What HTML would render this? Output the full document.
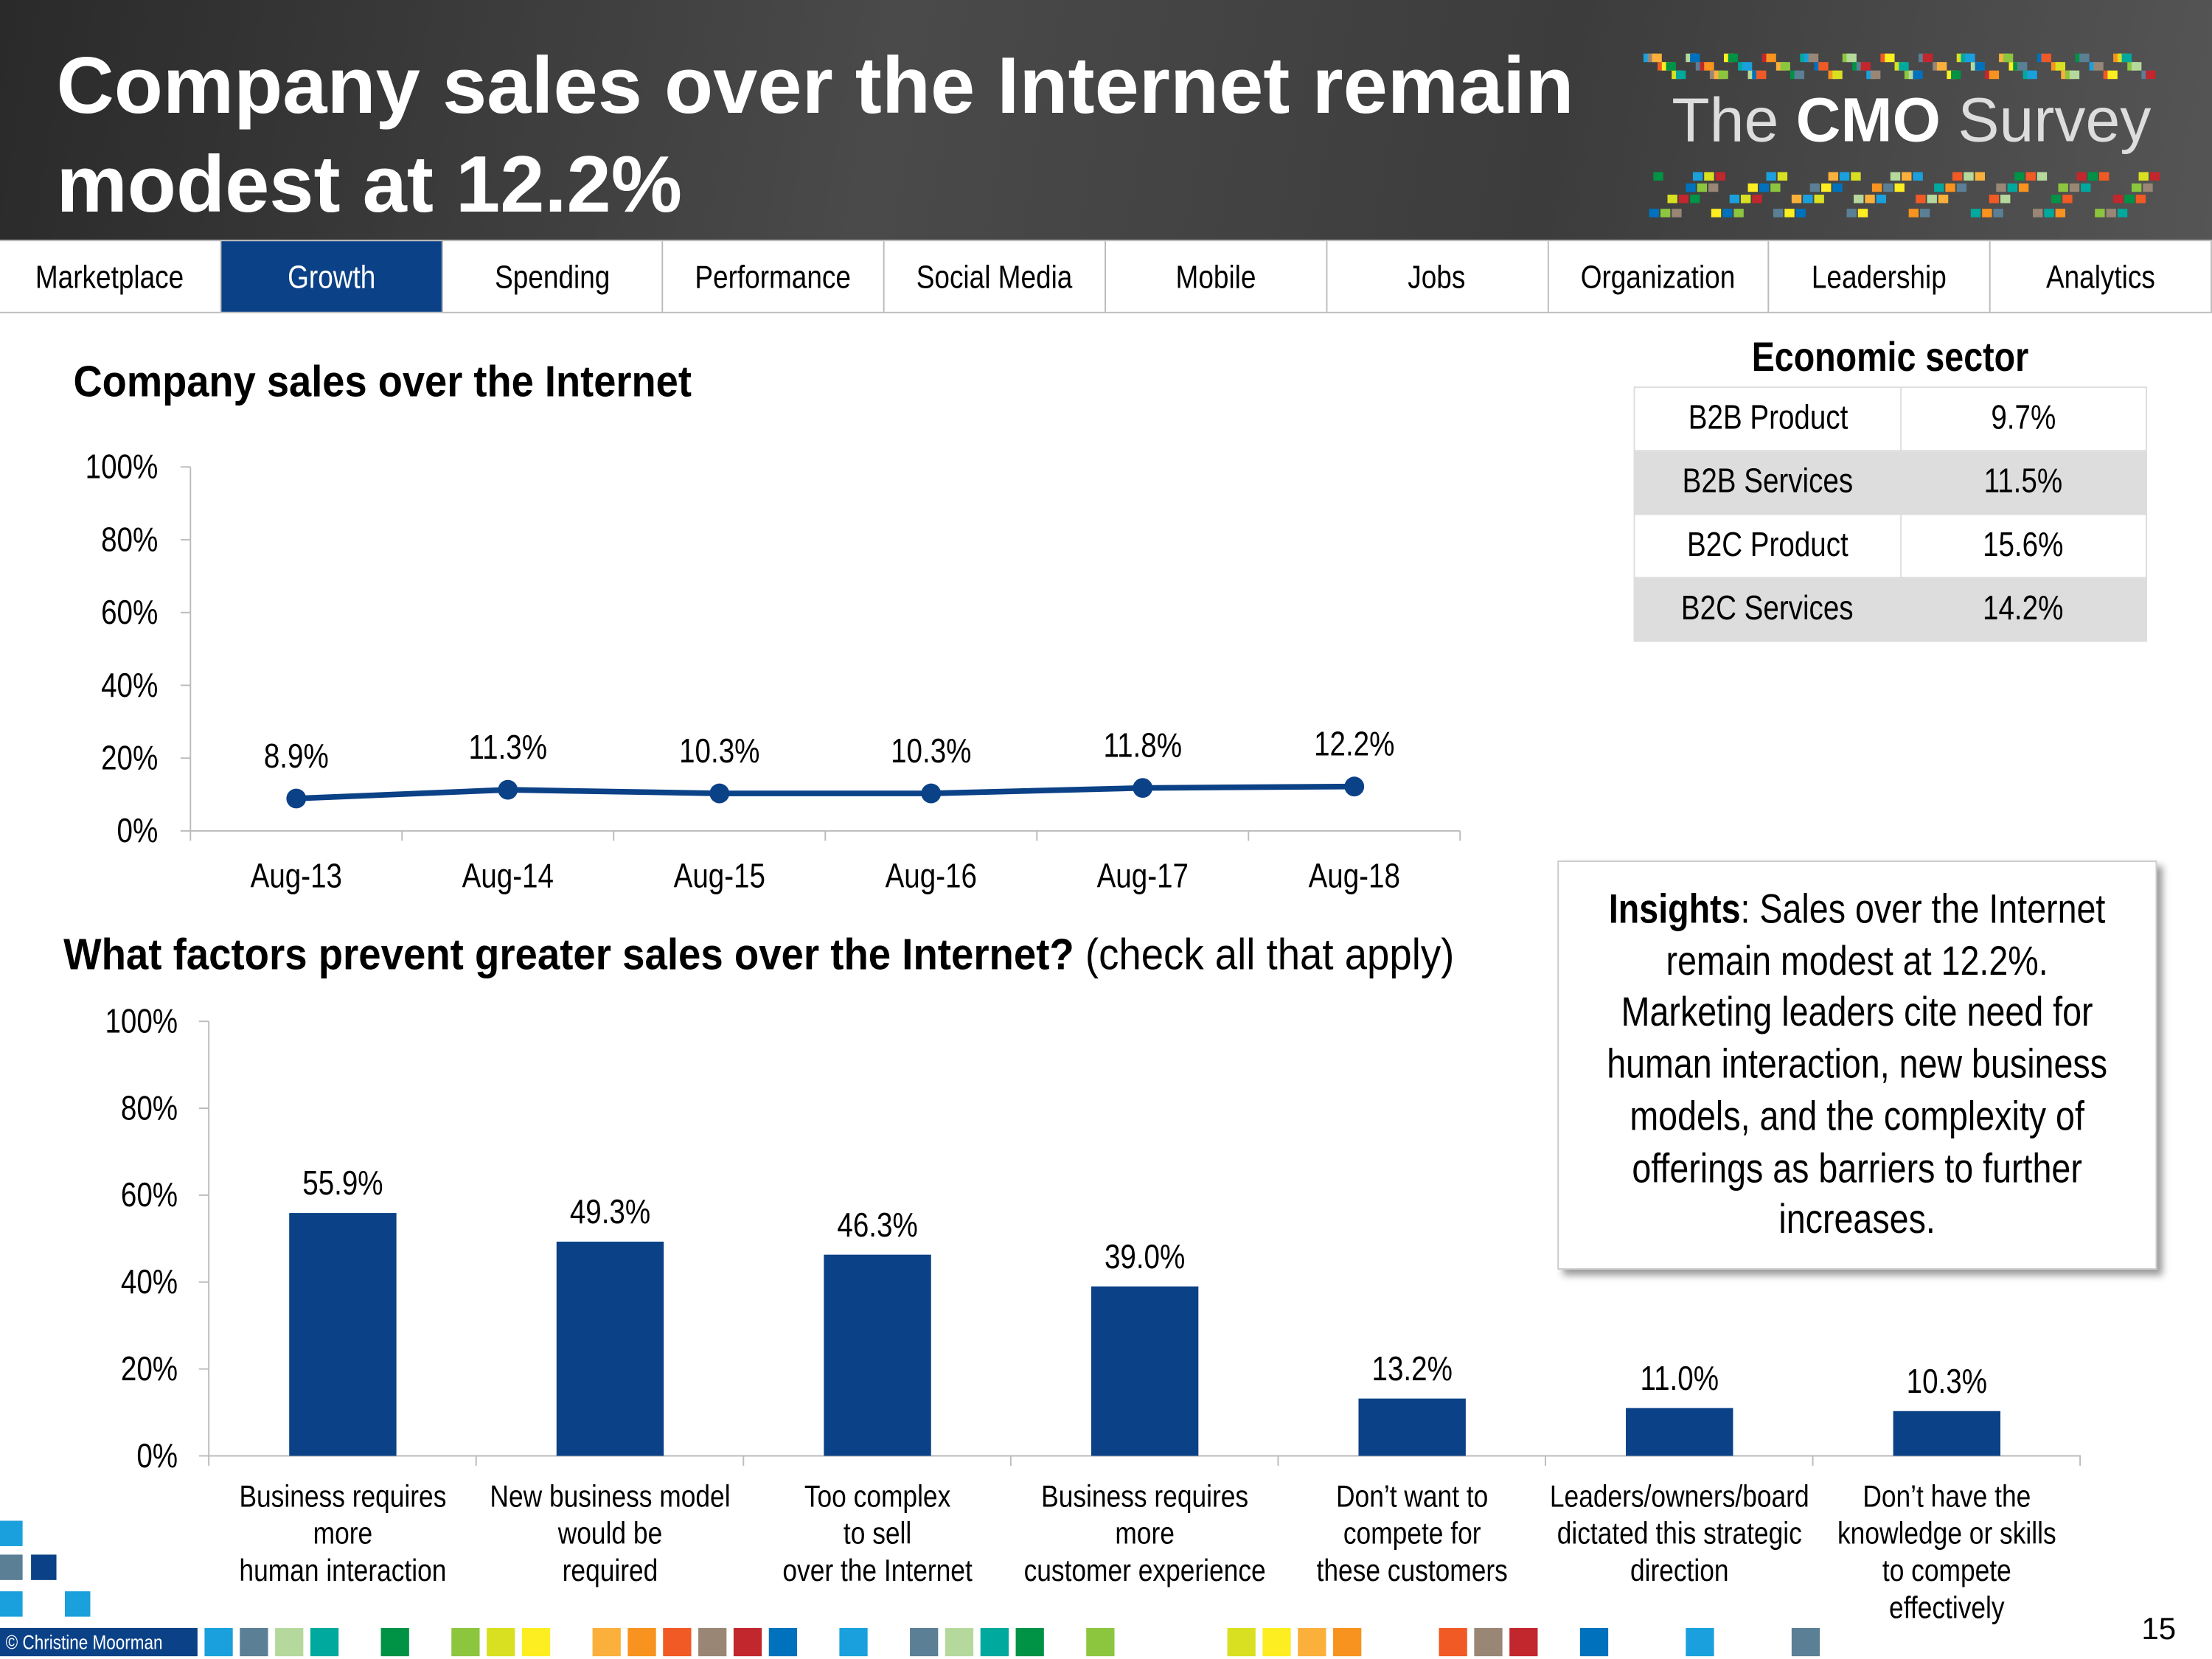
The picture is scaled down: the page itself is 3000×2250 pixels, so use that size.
<!DOCTYPE html>
<html><head><meta charset="utf-8"><style>
html,body{margin:0;padding:0;background:#fff;}
body{width:3000px;height:2250px;overflow:hidden;}
#wrap{width:1568px;height:1176px;transform:scale(1.91327);transform-origin:0 0;position:relative;font-family:"Liberation Sans",sans-serif;color:#000;}
.abs{position:absolute;}
.n{display:inline-block;transform:scaleX(0.84);white-space:nowrap;}
#header{left:0;top:0;width:1568px;height:170px;background:linear-gradient(100deg,#2a2a2a 0%,#4a4a4a 40%,#3c3c3c 70%,#555 100%);}
#title{left:40px;top:26px;color:#fff;font-weight:bold;font-size:56.6px;line-height:70px;white-space:nowrap;}
#nav{left:0;top:170px;width:1568px;height:52px;display:flex;border-top:1px solid #bbb;border-bottom:1px solid #bbb;box-sizing:border-box;}
.tab{flex:1;border-right:1px solid #bbb;text-align:center;line-height:50px;font-size:23px;}
.tab.sel{background:#0b4186;color:#fff;}
table{border-collapse:collapse;}
td{border:1px solid #ddd;font-size:24px;text-align:center;height:44px;padding:0;}
</style></head><body><div id="wrap">
<div id="header" class="abs"></div>
<div id="title" class="abs">Company sales over the Internet remain<br>modest at 12.2%</div>
<svg class="abs" style="left:1160px;top:30px" width="380" height="140">
<g id="pix1"></g>
<text x="25" y="70" fill="#ddd" font-family="Liberation Sans,sans-serif" font-size="44">The <tspan font-weight="bold" fill="#fff">CMO</tspan> Survey</text>
</svg>
<div id="nav" class="abs">
<div class="tab"><span class="n">Marketplace</span></div>
<div class="tab sel"><span class="n">Growth</span></div>
<div class="tab"><span class="n">Spending</span></div>
<div class="tab"><span class="n">Performance</span></div>
<div class="tab"><span class="n">Social Media</span></div>
<div class="tab"><span class="n">Mobile</span></div>
<div class="tab"><span class="n">Jobs</span></div>
<div class="tab"><span class="n">Organization</span></div>
<div class="tab"><span class="n">Leadership</span></div>
<div class="tab"><span class="n">Analytics</span></div>
</div>
<div class="abs" style="left:52px;top:253px;font-size:31px;font-weight:bold;transform:scaleX(0.915);transform-origin:0 0;white-space:nowrap">Company sales over the Internet</div>
<div class="abs" style="left:45px;top:659px;font-size:31px;transform:scaleX(0.92);transform-origin:0 0;white-space:nowrap"><b>What factors prevent greater sales over the Internet?</b> (check all that apply)</div>
<svg id="lc" class="abs" style="left:0;top:0" width="1568" height="1176"></svg>
<div class="abs" style="left:1158px;top:238px;width:364px;text-align:center;font-size:29px;font-weight:bold"><span class="n">Economic sector</span></div>
<table class="abs" style="left:1158px;top:274px;width:364px">
<tr><td style="width:188px"><span class="n">B2B Product</span></td><td><span class="n">9.7%</span></td></tr>
<tr style="background:#ddd"><td><span class="n">B2B Services</span></td><td><span class="n">11.5%</span></td></tr>
<tr><td><span class="n">B2C Product</span></td><td><span class="n">15.6%</span></td></tr>
<tr style="background:#ddd"><td><span class="n">B2C Services</span></td><td><span class="n">14.2%</span></td></tr>
</table>
<div class="abs" style="left:1104px;top:610px;width:425px;height:290px;border:1px solid #ccc;box-shadow:4px 4px 5px #999;box-sizing:border-box;overflow:hidden"><div style="width:470px;padding:16px 10px;box-sizing:border-box;text-align:center;font-size:29px;line-height:36.7px;transform:scaleX(0.84);transform-origin:0 0;margin-left:14px"><b>Insights</b>: Sales over the Internet remain modest at 12.2%. Marketing leaders cite need for human interaction, new business models, and the complexity of offerings as barriers to further increases.</div></div>
<div class="abs" style="left:0;top:1154px;width:140px;height:20px;background:#0b4186;color:#fff;font-size:14px;line-height:20px;padding-left:4px;box-sizing:border-box;white-space:nowrap"><span class="n" style="transform-origin:0 0">© Christine Moorman</span></div>
<div class="abs" style="left:1518px;top:1142px;font-size:22px">15</div>
<svg id="foot" class="abs" style="left:0;top:1070px" width="1568" height="106"></svg>
<script>
const lineCats=["Aug-13","Aug-14","Aug-15","Aug-16","Aug-17","Aug-18"];
const lineVals=[8.9,11.3,10.3,10.3,11.8,12.2];
const yTicks=[0,20,40,60,80,100];
const barCats=[["Business requires","more","human interaction"],["New business model","would be","required"],["Too complex","to sell","over the Internet"],["Business requires","more","customer experience"],["Don’t want to","compete for","these customers"],["Leaders/owners/board","dictated this strategic","direction"],["Don’t have the","knowledge or skills","to compete","effectively"]];
const barVals=[55.9,49.3,46.3,39.0,13.2,11.0,10.3];
const NS="http://www.w3.org/2000/svg";
const svg=document.getElementById('lc');
function mk(tag,at,parent,txt){const e=document.createElementNS(NS,tag);for(const k in at)e.setAttribute(k,at[k]);if(txt!==undefined)e.textContent=txt;(parent||svg).appendChild(e);return e;}
const F='Liberation Sans, sans-serif';
function tx(x,y,s,anchor,size){const e=mk('text',{x:0,y:0,transform:'translate('+x+','+y+') scale(0.84,1)','text-anchor':anchor,'font-size':size,'font-family':F},svg,s);return e;}
// line chart
const ly=v=>589-v/100*258, lx=i=>210+i*150;
mk('line',{x1:135,y1:331,x2:135,y2:589,stroke:'#bbb'});
mk('line',{x1:135,y1:589,x2:1035,y2:589,stroke:'#bbb'});
yTicks.forEach(t=>{mk('line',{x1:128,x2:135,y1:ly(t),y2:ly(t),stroke:'#bbb'});const e=tx(112,ly(t)+8,t+'%','end',24);});
for(let i=0;i<=lineCats.length;i++)mk('line',{x1:135+i*150,x2:135+i*150,y1:589,y2:596,stroke:'#bbb'});
let pts=lineVals.map((v,i)=>lx(i)+','+ly(v)).join(' ');
const pl=mk('polyline',{points:pts,fill:'none',stroke:'#0b4186','stroke-width':4});

lineVals.forEach((v,i)=>{const c=mk('circle',{cx:lx(i),cy:ly(v),r:7,fill:'#0b4186'});
const t=tx(lx(i),ly(v)-22,v.toFixed(1)+'%','middle',24);
const c2=tx(lx(i),629,lineCats[i],'middle',24);});
// bar chart
const by=v=>1032-v/100*308, bx=i=>243+i*189.5;
mk('line',{x1:148,y1:724,x2:148,y2:1032,stroke:'#bbb'});
mk('line',{x1:148,y1:1032,x2:1475,y2:1032,stroke:'#bbb'});
yTicks.forEach(t=>{mk('line',{x1:141,x2:148,y1:by(t),y2:by(t),stroke:'#bbb'});const e=tx(126,by(t)+8,t+'%','end',24);});
for(let i=0;i<=barVals.length;i++)mk('line',{x1:148+i*189.5,x2:148+i*189.5,y1:1032,y2:1039,stroke:'#bbb'});
barVals.forEach((v,i)=>{const r=mk('rect',{x:bx(i)-38,y:by(v),width:76,height:by(0)-by(v),fill:'#0b4186'});
const t=tx(bx(i),by(v)-13,v.toFixed(1)+'%','middle',24);
barCats[i].forEach((ln,j)=>{const c=tx(bx(i),1068+j*26.3,ln,'middle',22);});});
// decorative pixels
const cols=['#1aa0dc','#5b7f95','#b5d99c','#00a99d','#009245','#8cc63f','#d9e021','#fcee21','#fbb03b','#f7931e','#f15a24','#998675','#c1272d','#0071bc'];
const g=document.getElementById('pix1');
for(let k=0;k<90;k++){const x=5+(k*37)%360,row=k%3;mk('rect',{x:x,y:[8,14,20][row],width:7,height:6,fill:cols[k%cols.length]},g);mk('rect',{x:(x*7)%360+5,y:[92,100,108,118][k%4],width:7,height:6,fill:cols[(k*5)%cols.length]},g);}
const foot=document.getElementById('foot');
mk('rect',{x:0,y:8,width:16,height:18,fill:'#1aa0dc'},foot);mk('rect',{x:0,y:32,width:16,height:18,fill:'#5b7f95'},foot);mk('rect',{x:22,y:32,width:18,height:18,fill:'#0b4186'},foot);mk('rect',{x:0,y:58,width:16,height:18,fill:'#1aa0dc'},foot);mk('rect',{x:46,y:58,width:18,height:18,fill:'#1aa0dc'},foot);
const fx=[145,170,195,220,270,320,345,370,420,445,470,495,520,545,595,645,670,695,720,770,870,895,920,945,1020,1045,1070,1120,1195,1270];
fx.forEach((x,i)=>mk('rect',{x:x,y:84,width:20,height:20,fill:cols[i%cols.length]},foot));
</script>
</div></body></html>
